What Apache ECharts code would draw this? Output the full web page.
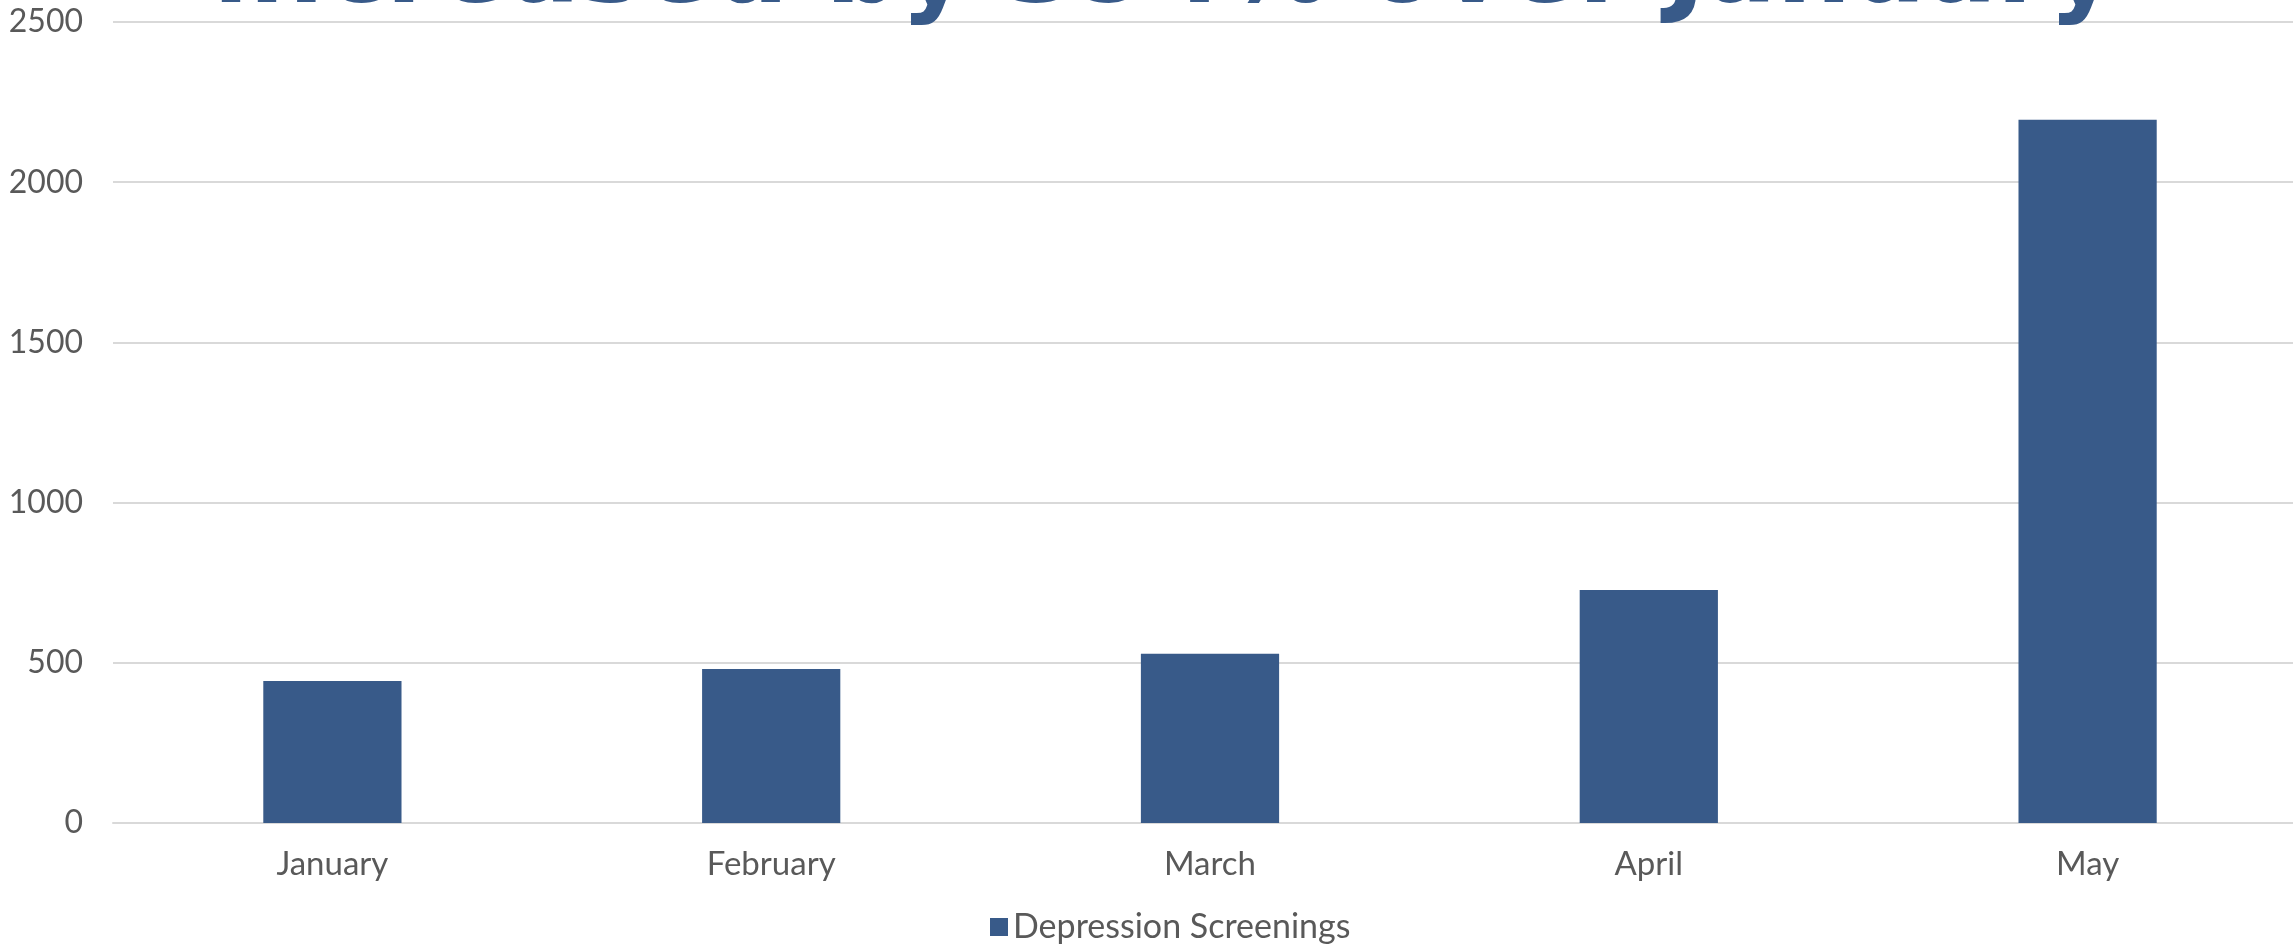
<!DOCTYPE html>
<html>
<head>
<meta charset="utf-8">
<script src="https://cdn.jsdelivr.net/npm/echarts@6/dist/echarts.min.js"></script>
<style>
  html, body { margin: 0; padding: 0; background: #fff; }
  #main { width: 2293px; height: 944px; }
</style>
</head>
<body>
<div id="main"></div>
<script>
// chart data
const months = ['January', 'February', 'March', 'April', 'May'];
const screenings = [443, 481, 528, 727, 2195];
const seriesName = 'Depression Screenings';
const titleText = 'increased by 394% over January';

const blue = '#385A89';
const grey = '#595959';

let chart = echarts.init(document.getElementById('main'));
let option = {
  backgroundColor: '#fff',
  animation: false,
  title: {
    text: titleText,
    left: 213,
    top: -78,
    padding: 0,
    textStyle: {
      color: blue,
      fontFamily: 'DejaVu Sans',
      fontWeight: 'bold',
      fontSize: 105
    }
  },
  legend: {
    left: 985,
    top: 905,
    icon: 'rect',
    itemWidth: 18,
    itemHeight: 18,
    itemGap: 10,
    textStyle: {
      color: grey,
      fontFamily: 'Lato',
      fontSize: 34,
      padding: [0, 0, 0, 0]
    },
    data: [seriesName]
  },
  grid: {
    left: 113,
    width: 2194,
    top: 22,
    bottom: 121,
    outerBoundsMode: 'none'
  },
  xAxis: {
    type: 'category',
    data: months,
    axisTick: { show: false },
    axisLine: { lineStyle: { color: '#d9d9d9', width: 2 } },
    axisLabel: {
      color: grey,
      fontFamily: 'Lato',
      fontSize: 33,
      margin: 25
    }
  },
  yAxis: {
    type: 'value',
    min: 0,
    max: 2500,
    interval: 500,
    axisLine: { show: false },
    axisTick: { show: false },
    axisLabel: {
      color: grey,
      fontFamily: 'Lato',
      fontSize: 32,
      margin: 30,
      formatter: (v) => String(v)
    },
    splitLine: { lineStyle: { color: '#d9d9d9', width: 2 } }
  },
  series: [
    {
      name: seriesName,
      type: 'bar',
      barWidth: '31.5%',
      itemStyle: { color: blue },
      data: screenings
    }
  ]
};
chart.setOption(option);
</script>
</body>
</html>
